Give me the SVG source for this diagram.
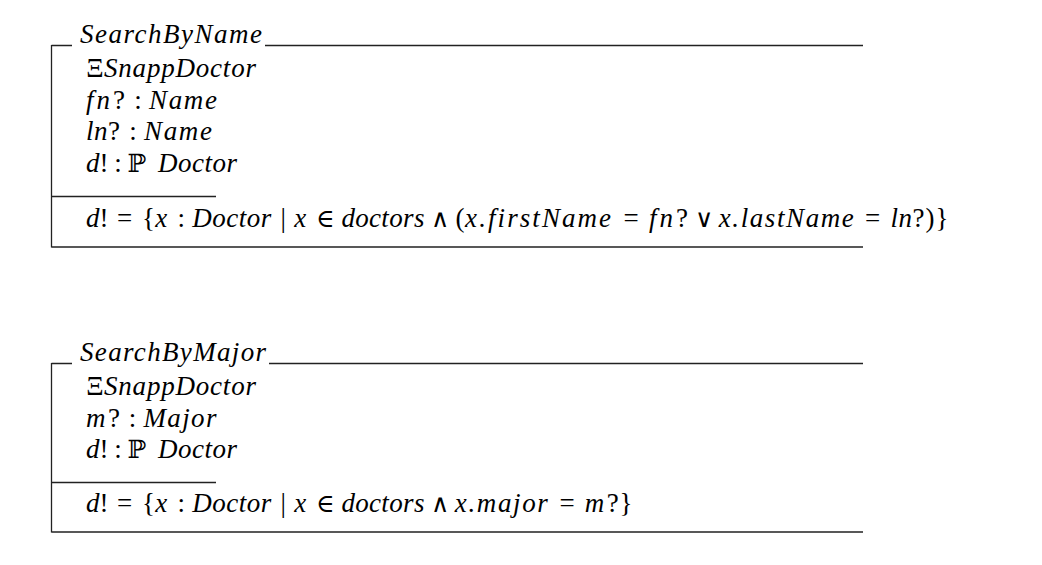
<svg xmlns="http://www.w3.org/2000/svg" width="1042" height="565" viewBox="0 0 1042 565">
<style>
.t{font-family:"Liberation Serif","DejaVu Serif",serif;font-size:27px;font-style:italic;fill:#000}
.n{font-style:normal}
.u{font-family:"Liberation Serif","DejaVu Serif",serif;font-size:27px;font-style:normal;fill:#000;text-anchor:middle}
.s{font-family:"DejaVu Serif","Liberation Serif",serif;font-size:25px;font-style:normal;fill:#000;text-anchor:middle}
.ln{stroke:#222;stroke-width:1.3;fill:none}
</style>
<rect width="1042" height="565" fill="#fff"/>
<g id="schema-searchbyname">
  <path class="ln" d="M51.5 45.5H72M265 45.5H863M51.5 45V247.5M51.5 196.5H216M51.5 247H863"/>
  <text class="t" x="80" y="43" textLength="182" lengthAdjust="spacing">SearchByName</text>
  <text class="u" x="95" y="77">Ξ</text>
  <text class="t" x="104" y="77" textLength="152" lengthAdjust="spacing">SnappDoctor</text>
  <text class="t" x="86" y="108.5" textLength="39" lengthAdjust="spacing">fn<tspan class="n">?</tspan></text>
  <text class="u" x="138" y="108.5">:</text>
  <text class="t" x="149" y="108.5" textLength="68" lengthAdjust="spacing">Name</text>
  <text class="t" x="86" y="140" textLength="34" lengthAdjust="spacing">ln<tspan class="n">?</tspan></text>
  <text class="u" x="133" y="140">:</text>
  <text class="t" x="144" y="140" textLength="68" lengthAdjust="spacing">Name</text>
  <text class="t" x="86" y="171.5">d<tspan class="n">!</tspan></text>
  <text class="u" x="118" y="171.5">:</text>
  <text class="s" x="137" y="171.5">ℙ</text>
  <text class="t" x="158" y="171.5" textLength="79" lengthAdjust="spacing">Doctor</text>
  <text class="t" x="86" y="226.5">d<tspan class="n">!</tspan></text>
  <text class="u" x="124.5" y="226.5">=</text>
  <text class="u" x="148.6" y="226.5">{</text>
  <text class="t" x="155.2" y="226.5">x</text>
  <text class="u" x="181.2" y="226.5">:</text>
  <text class="t" x="192.2" y="226.5" textLength="79" lengthAdjust="spacing">Doctor</text>
  <text class="u" x="283.2" y="226.5">|</text>
  <text class="t" x="294.2" y="226.5">x</text>
  <text class="s" x="325.3" y="226.5">∈</text>
  <text class="t" x="341.4" y="226.5" textLength="83" lengthAdjust="spacing">doctors</text>
  <text class="s" x="440.2" y="226.5">∧</text>
  <text class="u" x="460" y="226.5">(</text>
  <text class="t" x="465.1" y="226.5" textLength="146" lengthAdjust="spacing">x.firstName</text>
  <text class="u" x="631" y="226.5">=</text>
  <text class="t" x="649" y="226.5" textLength="39" lengthAdjust="spacing">fn<tspan class="n">?</tspan></text>
  <text class="s" x="704.2" y="226.5">∨</text>
  <text class="t" x="718.8" y="226.5" textLength="135" lengthAdjust="spacing">x.lastName</text>
  <text class="u" x="872.7" y="226.5">=</text>
  <text class="t" x="890.5" y="226.5" textLength="34" lengthAdjust="spacing">ln<tspan class="n">?</tspan></text>
  <text class="u" x="930" y="226.5">)</text>
  <text class="u" x="942" y="226.5">}</text>
</g>
<g id="schema-searchbymajor">
  <path class="ln" d="M51.5 363.5H72M269 363.5H863M51.5 363V532.5M51.5 482.5H216M51.5 532H863"/>
  <text class="t" x="80" y="361" textLength="186" lengthAdjust="spacing">SearchByMajor</text>
  <text class="u" x="95" y="395">Ξ</text>
  <text class="t" x="104" y="395" textLength="152" lengthAdjust="spacing">SnappDoctor</text>
  <text class="t" x="86" y="426.5" textLength="34" lengthAdjust="spacing">m<tspan class="n">?</tspan></text>
  <text class="u" x="132.5" y="426.5">:</text>
  <text class="t" x="143.4" y="426.5" textLength="73" lengthAdjust="spacing">Major</text>
  <text class="t" x="86" y="458">d<tspan class="n">!</tspan></text>
  <text class="u" x="118" y="458">:</text>
  <text class="s" x="137" y="458">ℙ</text>
  <text class="t" x="158" y="458" textLength="79" lengthAdjust="spacing">Doctor</text>
  <text class="t" x="86" y="512">d<tspan class="n">!</tspan></text>
  <text class="u" x="124.5" y="512">=</text>
  <text class="u" x="148.6" y="512">{</text>
  <text class="t" x="155.2" y="512">x</text>
  <text class="u" x="181.2" y="512">:</text>
  <text class="t" x="192.2" y="512" textLength="79" lengthAdjust="spacing">Doctor</text>
  <text class="u" x="283.2" y="512">|</text>
  <text class="t" x="294.2" y="512">x</text>
  <text class="s" x="325.3" y="512">∈</text>
  <text class="t" x="341.4" y="512" textLength="83" lengthAdjust="spacing">doctors</text>
  <text class="s" x="440.2" y="512">∧</text>
  <text class="t" x="454.8" y="512" textLength="93" lengthAdjust="spacing">x.major</text>
  <text class="u" x="567.2" y="512">=</text>
  <text class="t" x="584.7" y="512" textLength="34" lengthAdjust="spacing">m<tspan class="n">?</tspan></text>
  <text class="u" x="626" y="512">}</text>
</g>
</svg>
